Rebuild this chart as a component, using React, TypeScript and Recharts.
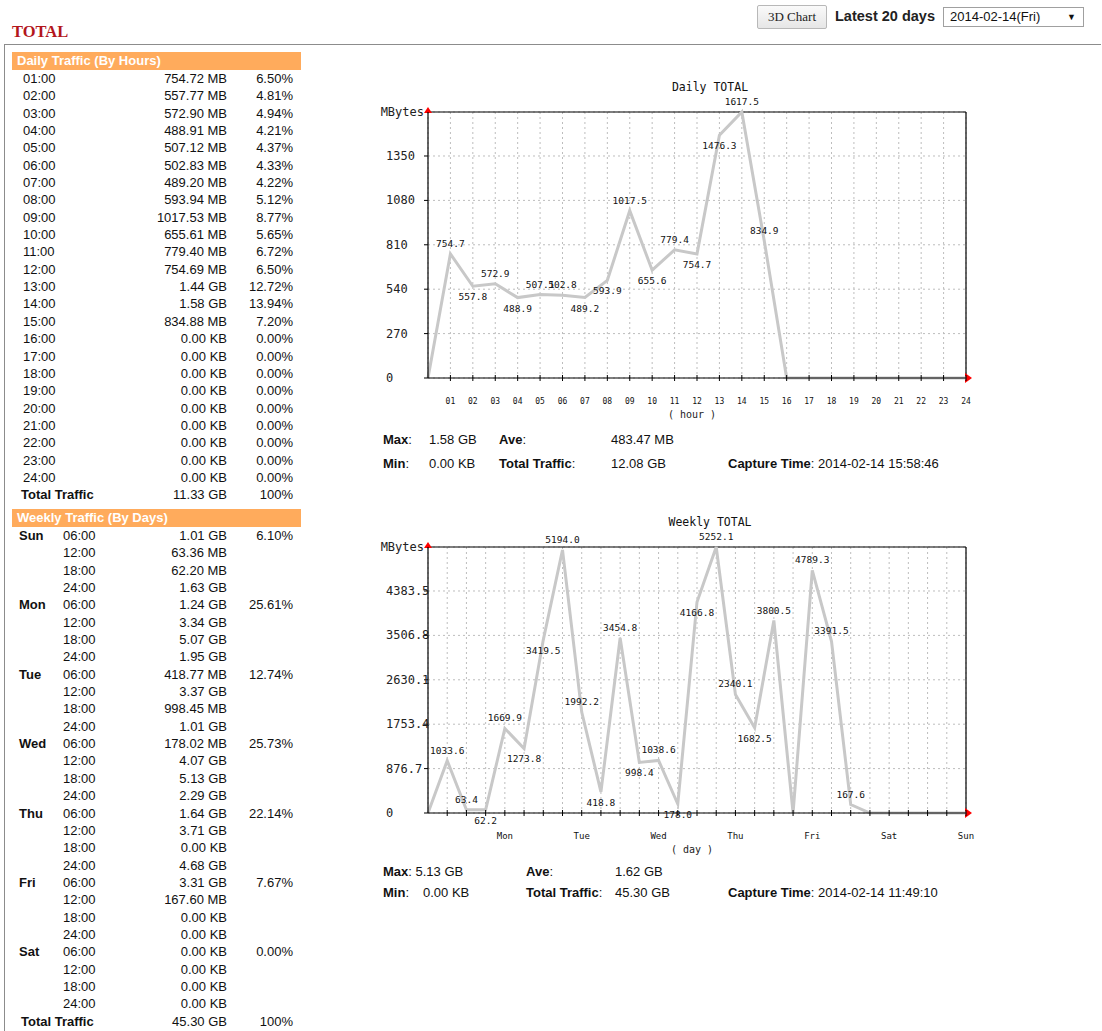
import React from 'react';
import { LineChart, Line, XAxis, YAxis, CartesianGrid, ReferenceLine, LabelList } from 'recharts';

// ---------- table data ----------
const hourLabels = ['01:00','02:00','03:00','04:00','05:00','06:00','07:00','08:00','09:00','10:00','11:00','12:00','13:00','14:00','15:00','16:00','17:00','18:00','19:00','20:00','21:00','22:00','23:00','24:00'];
const hourTraffic = ['754.72 MB','557.77 MB','572.90 MB','488.91 MB','507.12 MB','502.83 MB','489.20 MB','593.94 MB','1017.53 MB','655.61 MB','779.40 MB','754.69 MB','1.44 GB','1.58 GB','834.88 MB','0.00 KB','0.00 KB','0.00 KB','0.00 KB','0.00 KB','0.00 KB','0.00 KB','0.00 KB','0.00 KB'];
const hourShare = ['6.50%','4.81%','4.94%','4.21%','4.37%','4.33%','4.22%','5.12%','8.77%','5.65%','6.72%','6.50%','12.72%','13.94%','7.20%','0.00%','0.00%','0.00%','0.00%','0.00%','0.00%','0.00%','0.00%','0.00%'];
const dailyTotal = ['11.33 GB', '100%'];

const dayNames = ['Sun','Mon','Tue','Wed','Thu','Fri','Sat'];
const slotLabels = ['06:00','12:00','18:00','24:00'];
const weeklyTraffic = [
  '1.01 GB','63.36 MB','62.20 MB','1.63 GB',
  '1.24 GB','3.34 GB','5.07 GB','1.95 GB',
  '418.77 MB','3.37 GB','998.45 MB','1.01 GB',
  '178.02 MB','4.07 GB','5.13 GB','2.29 GB',
  '1.64 GB','3.71 GB','0.00 KB','4.68 GB',
  '3.31 GB','167.60 MB','0.00 KB','0.00 KB',
  '0.00 KB','0.00 KB','0.00 KB','0.00 KB',
];
const dayShare = ['6.10%','25.61%','12.74%','25.73%','22.14%','7.67%','0.00%'];
const weeklyTotal = ['45.30 GB', '100%'];

// ---------- chart data ----------
const dailyHours = [0,1,2,3,4,5,6,7,8,9,10,11,12,13,14,15,16,17,18,19,20,21,22,23,24];
const dailyMBytes = [0,754.7,557.8,572.9,488.9,507.1,502.8,489.2,593.9,1017.5,655.6,779.4,754.7,1476.3,1617.5,834.9,0,0,0,0,0,0,0,0,0];
const dailyXTicks = [1,2,3,4,5,6,7,8,9,10,11,12,13,14,15,16,17,18,19,20,21,22,23,24];
const dailyYTicks = [0,270,540,810,1080,1350];
const dailyMax = 1617.5;

const weeklySlots = [0,1,2,3,4,5,6,7,8,9,10,11,12,13,14,15,16,17,18,19,20,21,22,23,24,25,26,27,28];
const weeklyMBytes = [0,1033.6,63.4,62.2,1669.9,1273.8,3419.5,5194.0,1992.2,418.8,3454.8,998.4,1038.6,178.0,4166.8,5252.1,2340.1,1682.5,3800.5,0,4789.3,3391.5,167.6,0,0,0,0,0,0];
const weeklyXTicks = [1,2,3,4,5,6,7,8,9,10,11,12,13,14,15,16,17,18,19,20,21,22,23,24,25,26,27,28];
const weeklyYTicks = [0,876.7,1753.4,2630.1,3506.8,4383.5];
const weeklyMax = 5252.1;
const weeklyAxisDays = ['Mon','Tue','Wed','Thu','Fri','Sat','Sun'];

const dailyStats = { max: '1.58 GB', ave: '483.47 MB', min: '0.00 KB', total: '12.08 GB', capture: '2014-02-14 15:58:46' };
const weeklyStats = { max: '5.13 GB', ave: '1.62 GB', min: '0.00 KB', total: '45.30 GB', capture: '2014-02-14 11:49:10' };

const dailyData = dailyHours.map((h, i) => ({ x: h, v: dailyMBytes[i] }));
const weeklyData = weeklySlots.map((s, i) => ({ x: s, v: weeklyMBytes[i] }));

const MONO = "'DejaVu Sans Mono', monospace";
const SANS = "Arial, 'Liberation Sans', sans-serif";
const ROW_H = 17.35;

const makeLabel = (values: number[]) => (props: any) => {
  const { x, y, index } = props;
  const v = values[index];
  if (!v) return null;
  const next = index + 1 < values.length ? values[index + 1] : 0;
  const above = v >= next;
  return (
    <text x={x} y={above ? y - 7 : y + 14} textAnchor="middle" fontFamily={MONO} fontSize={9.5} fill="#111">
      {v.toFixed(1)}
    </text>
  );
};

const makeXTick = (fmt: (v: number) => string, size: number) => (props: any) => {
  const { x, y, payload } = props;
  return (
    <g>
      <line x1={x} x2={x} y1={y - 3} y2={y + 3} stroke="#000" strokeWidth={1} />
      <text x={x} y={y + 26} textAnchor="middle" fontFamily={MONO} fontSize={size} fill="#111">
        {fmt(payload.value)}
      </text>
    </g>
  );
};

const YTick = (props: any) => {
  const { x, y, payload } = props;
  return (
    <text x={x - 38} y={y + 4} textAnchor="start" fontFamily={MONO} fontSize={12} fill="#222">
      {String(payload.value)}
    </text>
  );
};

type ChartProps = {
  data: { x: number; v: number }[];
  values: number[];
  max: number;
  xMax: number;
  xTicks: number[];
  yTicks: number[];
  xFmt: (v: number) => string;
  xFont: number;
  title: string;
  unit: string;
};

function TrafficChart({ data, values, max, xMax, xTicks, yTicks, xFmt, xFont, title, unit }: ChartProps) {
  const topLabel = (p: any) => {
    const vb = p.viewBox || {};
    const x = vb.x, y = vb.y, w = vb.width;
    return (
      <g>
        <text x={x + w / 2 + 13} y={y - 21} textAnchor="middle" fontFamily={MONO} fontSize={11.5} fill="#111">{title}</text>
        <text x={x - 4} y={y + 4} textAnchor="end" fontFamily={MONO} fontSize={12} fill="#222">MBytes</text>
        <polygon points={`${x},${y - 5} ${x - 4},${y + 1} ${x + 4},${y + 1}`} fill="#ff0000" />
      </g>
    );
  };
  const rightLabel = (p: any) => {
    const vb = p.viewBox || {};
    const x = vb.x, y = vb.y + vb.height;
    return <polygon points={`${x - 1},${y - 5} ${x + 6},${y} ${x - 1},${y + 5}`} fill="#ff0000" />;
  };
  const axisLabel = (p: any) => {
    const vb = p.viewBox || {};
    return (
      <text x={vb.x + vb.width / 2 - 5} y={vb.y + 40} textAnchor="middle" fontFamily={MONO} fontSize={10} fill="#222">{`( ${unit} )`}</text>
    );
  };
  return (
    <LineChart width={640} height={370} data={data} margin={{ top: 42, right: 34, bottom: 22, left: 0 }}>
      <CartesianGrid stroke="#bdbdbd" strokeDasharray="2 3" />
      <XAxis
        dataKey="x"
        type="number"
        domain={[0, xMax]}
        ticks={xTicks}
        interval={0}
        height={40}
        tickSize={0}
        tickMargin={0}
        tickLine={false}
        axisLine={{ stroke: '#000', strokeWidth: 1.2 }}
        tick={makeXTick(xFmt, xFont)}
        label={{ content: axisLabel }}
      />
      <YAxis
        type="number"
        domain={[0, max]}
        ticks={yTicks}
        interval={0}
        width={68}
        tickSize={4}
        tickMargin={0}
        tickLine={{ stroke: '#000' }}
        axisLine={{ stroke: '#000', strokeWidth: 1.2 }}
        tick={YTick}
      />
      <ReferenceLine y={max} stroke="#000" strokeWidth={1.2} label={{ content: topLabel }} />
      <ReferenceLine x={xMax} stroke="#000" strokeWidth={1.2} label={{ content: rightLabel }} />
      <Line
        type="linear"
        dataKey="v"
        stroke="#c8c8c8"
        strokeWidth={3}
        dot={false}
        activeDot={false}
        isAnimationActive={false}
      >
        <LabelList dataKey="v" content={makeLabel(values)} />
      </Line>
    </LineChart>
  );
}

const cell = (style: React.CSSProperties): React.CSSProperties => ({ position: 'absolute', top: 0, whiteSpace: 'nowrap', ...style });

function Row({ children }: { children: React.ReactNode }) {
  return <div style={{ position: 'relative', height: ROW_H, lineHeight: `${ROW_H}px` }}>{children}</div>;
}

function Header({ text }: { text: string }) {
  return (
    <div style={{ background: '#ffab5c', color: '#fff', fontWeight: 'bold', fontSize: 13, height: 18, lineHeight: '18px', paddingLeft: 5 }}>
      {text}
    </div>
  );
}

type StatItem = { x: number; y: number; bold?: string; text: string };

function Stats({ top, items }: { top: number; items: StatItem[] }) {
  return (
    <div style={{ position: 'absolute', left: 0, top, fontFamily: SANS, fontSize: 13, color: '#111' }}>
      {items.map((it, i) => (
        <span key={i} style={{ position: 'absolute', left: it.x, top: it.y, whiteSpace: 'nowrap' }}>
          {it.bold ? <b>{it.bold}</b> : null}
          {it.text}
        </span>
      ))}
    </div>
  );
}

export default function App() {
  return (
    <div style={{ position: 'absolute', left: 0, top: 0, width: 1102, height: 1031, overflow: 'hidden', background: '#fff', fontFamily: SANS, color: '#111' }}>
      {/* page title */}
      <div style={{ position: 'absolute', left: 12, top: 22, fontFamily: "'Liberation Serif', 'Times New Roman', serif", fontWeight: 'bold', fontSize: 16.5, color: '#b3161c' }}>TOTAL</div>
      {/* controls */}
      <div style={{ position: 'absolute', left: 757, top: 5, width: 70, height: 24, boxSizing: 'border-box', border: '1px solid #b8b8b8', borderRadius: 2, background: 'linear-gradient(#fafafa,#e6e6e6)', fontFamily: "'Liberation Serif', serif", fontSize: 13, lineHeight: '22px', textAlign: 'center', color: '#222' }}>3D Chart</div>
      <div style={{ position: 'absolute', left: 835, top: 8, fontWeight: 'bold', fontSize: 14.5, color: '#222' }}>Latest 20 days</div>
      <div style={{ position: 'absolute', left: 943, top: 7, width: 141, height: 20, boxSizing: 'border-box', border: '1px solid #a0a0a0', background: '#fff', fontSize: 13, lineHeight: '18px', paddingLeft: 6, color: '#111' }}>
        2014-02-14(Fri)
        <span style={{ position: 'absolute', right: 7, top: 0, fontSize: 9 }}>▼</span>
      </div>
      {/* frame lines */}
      <div style={{ position: 'absolute', left: 5, top: 44, width: 1096, height: 0, borderTop: '1px solid #8c8c8c' }} />
      <div style={{ position: 'absolute', left: 4, top: 44, width: 0, height: 990, borderLeft: '1px solid #8c8c8c' }} />

      {/* daily table */}
      <div style={{ position: 'absolute', left: 12, top: 52, width: 289, fontSize: 13 }}>
        <Header text="Daily Traffic (By Hours)" />
        {hourLabels.map((h, i) => (
          <Row key={h}>
            <span style={cell({ left: 11 })}>{h}</span>
            <span style={cell({ right: 74 })}>{hourTraffic[i]}</span>
            <span style={cell({ right: 8 })}>{hourShare[i]}</span>
          </Row>
        ))}
        <Row>
          <span style={cell({ left: 9, fontWeight: 'bold' })}>Total Traffic</span>
          <span style={cell({ right: 74 })}>{dailyTotal[0]}</span>
          <span style={cell({ right: 8 })}>{dailyTotal[1]}</span>
        </Row>
      </div>

      {/* weekly table */}
      <div style={{ position: 'absolute', left: 12, top: 509, width: 289, fontSize: 13 }}>
        <Header text="Weekly Traffic (By Days)" />
        {dayNames.map((d, di) => (
          <React.Fragment key={d}>
            {slotLabels.map((s, si) => (
              <Row key={s}>
                {si === 0 ? <span style={cell({ left: 7, fontWeight: 'bold' })}>{d}</span> : null}
                <span style={cell({ left: 51 })}>{s}</span>
                <span style={cell({ right: 74 })}>{weeklyTraffic[di * 4 + si]}</span>
                {si === 0 ? <span style={cell({ right: 8 })}>{dayShare[di]}</span> : null}
              </Row>
            ))}
          </React.Fragment>
        ))}
        <Row>
          <span style={cell({ left: 9, fontWeight: 'bold' })}>Total Traffic</span>
          <span style={cell({ right: 74 })}>{weeklyTotal[0]}</span>
          <span style={cell({ right: 8 })}>{weeklyTotal[1]}</span>
        </Row>
      </div>

      {/* daily chart */}
      <div style={{ position: 'absolute', left: 360, top: 70 }}>
        <TrafficChart
          data={dailyData}
          values={dailyMBytes}
          max={dailyMax}
          xMax={24}
          xTicks={dailyXTicks}
          yTicks={dailyYTicks}
          xFmt={(v) => (v < 10 ? '0' + v : String(v))}
          xFont={8}
          title="Daily TOTAL"
          unit="hour"
        />
      </div>
      <Stats
        top={432}
        items={[
          { x: 383, y: 0, bold: 'Max', text: ':' },
          { x: 429, y: 0, text: dailyStats.max },
          { x: 499, y: 0, bold: 'Ave', text: ':' },
          { x: 611, y: 0, text: dailyStats.ave },
          { x: 383, y: 24, bold: 'Min', text: ':' },
          { x: 429, y: 24, text: dailyStats.min },
          { x: 499, y: 24, bold: 'Total Traffic', text: ':' },
          { x: 611, y: 24, text: dailyStats.total },
          { x: 728, y: 24, bold: 'Capture Time', text: ': ' + dailyStats.capture },
        ]}
      />

      {/* weekly chart */}
      <div style={{ position: 'absolute', left: 360, top: 505 }}>
        <TrafficChart
          data={weeklyData}
          values={weeklyMBytes}
          max={weeklyMax}
          xMax={28}
          xTicks={weeklyXTicks}
          yTicks={weeklyYTicks}
          xFmt={(v) => (v % 4 === 0 ? weeklyAxisDays[v / 4 - 1] : '')}
          xFont={9}
          title="Weekly TOTAL"
          unit="day"
        />
      </div>
      <Stats
        top={864}
        items={[
          { x: 383, y: 0, bold: 'Max', text: ': ' + weeklyStats.max },
          { x: 526, y: 0, bold: 'Ave', text: ':' },
          { x: 615, y: 0, text: weeklyStats.ave },
          { x: 383, y: 21, bold: 'Min', text: ':' },
          { x: 423, y: 21, text: weeklyStats.min },
          { x: 526, y: 21, bold: 'Total Traffic', text: ':' },
          { x: 615, y: 21, text: weeklyStats.total },
          { x: 728, y: 21, bold: 'Capture Time', text: ': ' + weeklyStats.capture },
        ]}
      />
    </div>
  );
}
